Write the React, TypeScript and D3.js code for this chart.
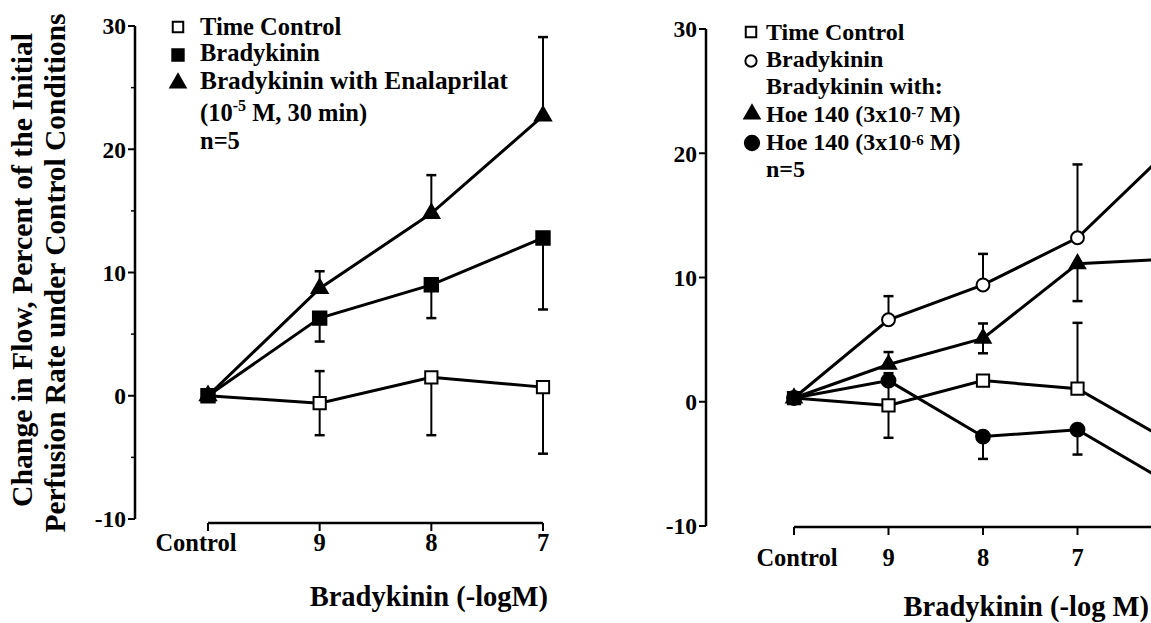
import React from "react";
import * as d3 from "d3";

const W = 1151;
const H = 623;
const FONT = "'Liberation Serif', 'Times New Roman', serif";

// categories / tick labels
const doseLeft = ["Control", "9", "8", "7"];
const doseRight = ["Control", "9", "8", "7", "6"];
const doseRightLabels = ["Control", "9", "8", "7"];
const yTicks = [30, 20, 10, 0, -10];
const yMinorLeft = [25, 15, 5, -5];

// left panel: enalaprilat study
const timeControlL = [0, -0.6, 1.5, 0.7];
const timeControlLSd = [0, 2.6, 4.7, 5.4];
const timeControlLBar = ["none", "both", "down", "down"];

const bradykininL = [0, 6.3, 9.0, 12.8];
const bradykininLSd = [0, 1.9, 2.7, 5.8];
const bradykininLBar = ["none", "down", "down", "down"];

const enalaprilatL = [0, 8.7, 14.8, 22.7];
const enalaprilatLSd = [0, 1.4, 3.1, 6.4];
const enalaprilatLBar = ["none", "up", "up", "up"];

// right panel: Hoe 140 study
const timeControlR = [0.3, -0.3, 1.7, 1.05, -3.3];
const timeControlRSd = [0, 2.6, 0, 5.3, 0];
const timeControlRBar = ["none", "both", "none", "up", "none"];

const bradykininR = [0.3, 6.6, 9.4, 13.2, 20.5];
const bradykininRSd = [0, 1.9, 2.5, 5.9, 0];
const bradykininRBar = ["none", "up", "up", "up", "none"];

const hoeLowR = [0.3, 3.0, 5.1, 11.1, 11.5];
const hoeLowRSd = [0, 1.0, 1.2, 3.0, 0];
const hoeLowRBar = ["none", "up", "both", "down", "none"];

const hoeHighR = [0.3, 1.7, -2.8, -2.25, -6.7];
const hoeHighRSd = [0, 0, 1.8, 2.0, 0];
const hoeHighRBar = ["none", "none", "down", "down", "none"];

type Series = {
  values: number[];
  sd: number[];
  bar: string[];
  symbol: d3.SymbolType;
  size: number;
  filled: boolean;
};

function Marker({ x, y, symbol, size, filled }: any) {
  const path = d3.symbol().type(symbol).size(size)() as string;
  return (
    <path
      d={path}
      transform={`translate(${x},${y})`}
      fill={filled ? "#000" : "#fff"}
      stroke="#000"
      strokeWidth={2}
    />
  );
}

function Panel({
  cats,
  labels,
  xRange,
  yRange,
  xAxisY,
  axisX,
  minor,
  series,
  tickLabelY,
  firstLabelShift,
}: any) {
  const x = d3.scalePoint<string>().domain(cats).range(xRange);
  const y = d3.scaleLinear().domain([-10, 30]).range(yRange);
  const line = d3
    .line<number>()
    .x((_, i) => x(cats[i]) as number)
    .y((d) => y(d));

  return (
    <g>
      {/* y axis */}
      <line x1={axisX} x2={axisX} y1={y(30)} y2={y(-10)} stroke="#000" strokeWidth={2.5} />
      {yTicks.map((t) => (
        <g key={t}>
          <line x1={axisX - 7} x2={axisX} y1={y(t)} y2={y(t)} stroke="#000" strokeWidth={2} />
          <text
            x={axisX - 9}
            y={y(t)}
            dy="0.36em"
            textAnchor="end"
            fontSize={23.5}
            fontWeight="bold"
            fontFamily={FONT}
          >
            {t}
          </text>
        </g>
      ))}
      {minor.map((t: number) => (
        <line key={t} x1={axisX - 4} x2={axisX} y1={y(t)} y2={y(t)} stroke="#000" strokeWidth={1.5} />
      ))}

      {/* x axis */}
      <line
        x1={x(cats[0])}
        x2={x(cats[cats.length - 1])}
        y1={xAxisY}
        y2={xAxisY}
        stroke="#000"
        strokeWidth={2.5}
      />
      {cats.map((c: string) => (
        <line key={c} x1={x(c)} x2={x(c)} y1={xAxisY} y2={xAxisY + 8} stroke="#000" strokeWidth={2} />
      ))}
      {labels.map((c: string, i: number) => (
        <text
          key={c}
          x={(x(c) as number) + (i === 0 ? firstLabelShift : 0)}
          y={tickLabelY}
          textAnchor="middle"
          fontSize={24.5}
          fontWeight="bold"
          fontFamily={FONT}
        >
          {c}
        </text>
      ))}

      {/* lines */}
      {series.map((s: Series, k: number) => (
        <path key={k} d={line(s.values) as string} fill="none" stroke="#000" strokeWidth={3} />
      ))}

      {/* error bars */}
      {series.map((s: Series, k: number) =>
        s.values.map((v, i) => {
          const dir = s.bar[i];
          if (dir === "none") return null;
          const cx = x(cats[i]) as number;
          const ends: number[] = [];
          if (dir === "up" || dir === "both") ends.push(v + s.sd[i]);
          if (dir === "down" || dir === "both") ends.push(v - s.sd[i]);
          return (
            <g key={`${k}-${i}`}>
              {ends.map((e, j) => (
                <g key={j}>
                  <line x1={cx} x2={cx} y1={y(v)} y2={y(e)} stroke="#000" strokeWidth={2} />
                  <line x1={cx - 5} x2={cx + 5} y1={y(e)} y2={y(e)} stroke="#000" strokeWidth={2.5} />
                </g>
              ))}
            </g>
          );
        })
      )}

      {/* markers */}
      {series.map((s: Series, k: number) =>
        s.values.map((v, i) => (
          <Marker
            key={`${k}-${i}`}
            x={x(cats[i])}
            y={y(v)}
            symbol={s.symbol}
            size={s.size}
            filled={s.filled}
          />
        ))
      )}
    </g>
  );
}

const leftSeries: Series[] = [
  { values: timeControlL, sd: timeControlLSd, bar: timeControlLBar, symbol: d3.symbolSquare, size: 150, filled: false },
  { values: bradykininL, sd: bradykininLSd, bar: bradykininLBar, symbol: d3.symbolSquare, size: 180, filled: true },
  { values: enalaprilatL, sd: enalaprilatLSd, bar: enalaprilatLBar, symbol: d3.symbolTriangle, size: 110, filled: true },
];

const rightSeries: Series[] = [
  { values: timeControlR, sd: timeControlRSd, bar: timeControlRBar, symbol: d3.symbolSquare, size: 150, filled: false },
  { values: bradykininR, sd: bradykininRSd, bar: bradykininRBar, symbol: d3.symbolCircle, size: 130, filled: false },
  { values: hoeLowR, sd: hoeLowRSd, bar: hoeLowRBar, symbol: d3.symbolTriangle, size: 100, filled: true },
  { values: hoeHighR, sd: hoeHighRSd, bar: hoeHighRBar, symbol: d3.symbolCircle, size: 150, filled: true },
];

const txt = { fontFamily: FONT, fontWeight: "bold" as const };

export default function App() {
  return (
    <svg
      width={W}
      height={H}
      style={{ position: "absolute", left: 0, top: 0, background: "#fff" }}
    >
      {/* y axis title */}
      <text
        transform="translate(32,270) rotate(-90)"
        textAnchor="middle"
        fontSize={29.5}
        textLength={474}
        lengthAdjust="spacingAndGlyphs"
        {...txt}
      >
        Change in Flow, Percent of the Initial
      </text>
      <text
        transform="translate(65,273) rotate(-90)"
        textAnchor="middle"
        fontSize={29.5}
        textLength={519}
        lengthAdjust="spacingAndGlyphs"
        {...txt}
      >
        Perfusion Rate under Control Conditions
      </text>

      <Panel
        cats={doseLeft}
        labels={doseLeft}
        xRange={[208, 543]}
        yRange={[519, 26]}
        xAxisY={523}
        axisX={135}
        minor={yMinorLeft}
        series={leftSeries}
        tickLabelY={551}
        firstLabelShift={-12}
      />
      <Panel
        cats={doseRight}
        labels={doseRightLabels}
        xRange={[794, 1172]}
        yRange={[526, 29]}
        xAxisY={527}
        axisX={706}
        minor={[]}
        series={rightSeries}
        tickLabelY={566}
        firstLabelShift={3}
      />

      {/* left legend */}
      <Marker x={178} y={27} symbol={d3.symbolSquare} size={110} filled={false} />
      <Marker x={178} y={55} symbol={d3.symbolSquare} size={130} filled={true} />
      <Marker x={178} y={83} symbol={d3.symbolTriangle} size={100} filled={true} />
      <g fontSize={24.5} {...txt}>
        <text x={200} y={35}>Time Control</text>
        <text x={200} y={61}>Bradykinin</text>
        <text x={200} y={89} textLength={308} lengthAdjust="spacingAndGlyphs">
          Bradykinin with Enalaprilat
        </text>
        <text x={200} y={121}>
          (10<tspan fontSize={16} dy={-10}>-5</tspan>
          <tspan dy={10}> M, 30 min)</tspan>
        </text>
        <text x={200} y={149}>n=5</text>
      </g>

      {/* right legend */}
      <Marker x={751} y={32} symbol={d3.symbolSquare} size={110} filled={false} />
      <Marker x={751} y={61} symbol={d3.symbolCircle} size={100} filled={false} />
      <Marker x={752} y={114} symbol={d3.symbolTriangle} size={100} filled={true} />
      <Marker x={752} y={143} symbol={d3.symbolCircle} size={160} filled={true} />
      <g fontSize={24} {...txt}>
        <text x={766} y={40}>Time Control</text>
        <text x={766} y={67}>Bradykinin</text>
        <text x={766} y={94}>Bradykinin with:</text>
        <text x={766} y={122}>
          Hoe 140 (3x10<tspan fontSize={15} dy={-5}>-7</tspan>
          <tspan dy={5}> M)</tspan>
        </text>
        <text x={766} y={150}>
          Hoe 140 (3x10<tspan fontSize={15} dy={-5}>-6</tspan>
          <tspan dy={5}> M)</tspan>
        </text>
        <text x={766} y={177}>n=5</text>
      </g>

      {/* x axis titles */}
      <text x={548} y={606} textAnchor="end" fontSize={28.5} {...txt}>
        Bradykinin (-logM)
      </text>
      <text x={1149} y={616} textAnchor="end" fontSize={28.5} {...txt}>
        Bradykinin (-log M)
      </text>
    </svg>
  );
}
